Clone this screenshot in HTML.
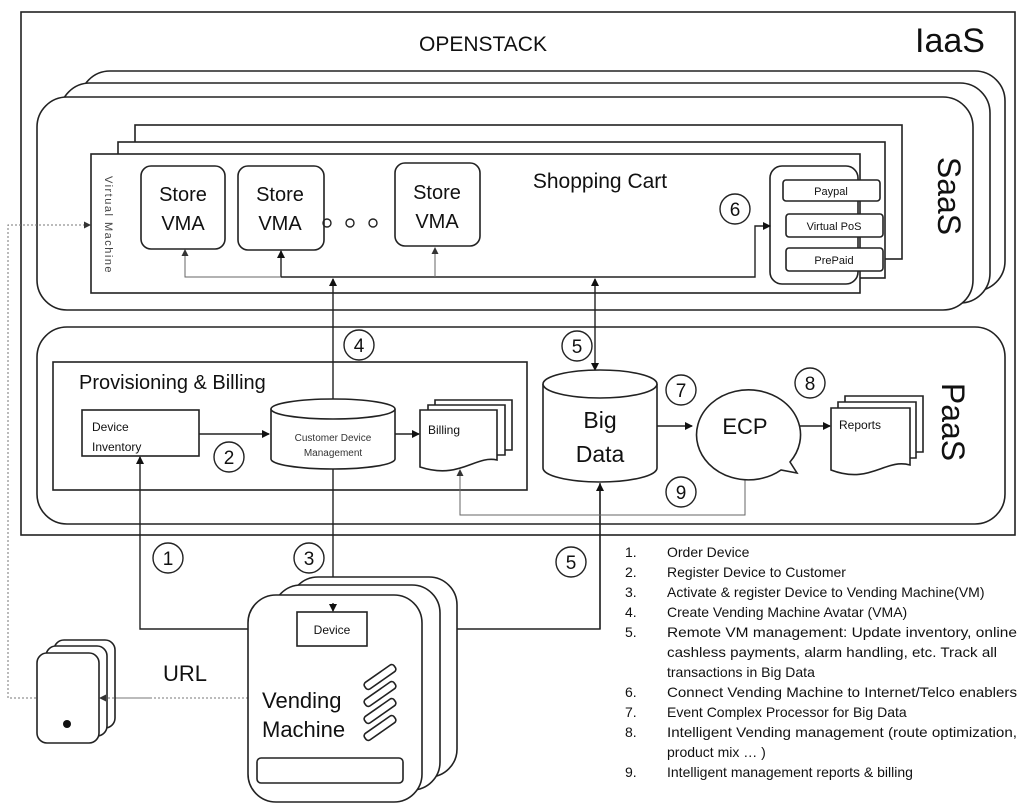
<!DOCTYPE html>
<html><head><meta charset="utf-8"><style>
html,body{margin:0;padding:0;background:#fff;}
svg{display:block;font-family:"Liberation Sans",sans-serif;}
</style></head><body>
<svg width="1024" height="812" viewBox="0 0 1024 812" xmlns="http://www.w3.org/2000/svg">
<defs>
<marker id="a" markerWidth="8" markerHeight="8" refX="7" refY="4" orient="auto-start-reverse" markerUnits="userSpaceOnUse"><path d="M0,0 L8,4 L0,8 z" fill="#111"/></marker>
<marker id="ag" markerWidth="7" markerHeight="7" refX="6" refY="3.5" orient="auto" markerUnits="userSpaceOnUse"><path d="M0,0 L7,3.5 L0,7 z" fill="#333"/></marker>
</defs>
<g fill="#fff" stroke="#222" stroke-width="1.6">
<rect x="21" y="12" width="994" height="523"/>
<rect x="80" y="71" width="925" height="220" rx="30"/>
<rect x="60" y="83" width="930" height="220" rx="30"/>
<rect x="37" y="97" width="936" height="213" rx="30"/>
<rect x="135" y="125" width="767" height="134"/>
<rect x="118" y="142" width="767" height="136"/>
<rect x="91" y="154" width="769" height="139"/>
<rect x="141" y="166" width="84" height="83" rx="10"/>
<rect x="238" y="166" width="86" height="84" rx="10"/>
<rect x="395" y="163" width="85" height="83" rx="10"/>
<rect x="770" y="166" width="88" height="118" rx="12"/>
<rect x="783" y="180" width="97" height="21" rx="3"/>
<rect x="786" y="214" width="97" height="23" rx="3"/>
<rect x="786" y="248" width="97" height="23" rx="3"/>
<rect x="37" y="327" width="968" height="197" rx="30"/>
<rect x="53" y="362" width="474" height="128"/>
<rect x="82" y="410" width="117" height="46"/>
</g>
<g fill="none" stroke="#222" stroke-width="1.4">
<circle cx="327" cy="223" r="4"/><circle cx="350" cy="223" r="4"/><circle cx="373" cy="223" r="4"/>
</g>
<g fill="#111">
<text x="483" y="51" font-size="21" text-anchor="middle">OPENSTACK</text>
<text x="950" y="52" font-size="34" text-anchor="middle">IaaS</text>
<text transform="translate(105,225) rotate(90)" font-size="11" text-anchor="middle" letter-spacing="1.5" fill="#444">Virtual Machine</text>
<text x="183" y="201" font-size="20" text-anchor="middle">Store</text><text x="183" y="230" font-size="20" text-anchor="middle">VMA</text>
<text x="280" y="201" font-size="20" text-anchor="middle">Store</text><text x="280" y="230" font-size="20" text-anchor="middle">VMA</text>
<text x="437" y="199" font-size="20" text-anchor="middle">Store</text><text x="437" y="228" font-size="20" text-anchor="middle">VMA</text>
<text x="600" y="188" font-size="21" text-anchor="middle">Shopping Cart</text>
<text x="831" y="195" font-size="11" text-anchor="middle">Paypal</text>
<text x="834" y="230" font-size="11" text-anchor="middle">Virtual PoS</text>
<text x="834" y="264" font-size="11" text-anchor="middle">PrePaid</text>
<text transform="translate(938,196) rotate(90)" font-size="32" text-anchor="middle">SaaS</text>
<text transform="translate(942,422) rotate(90)" font-size="32" text-anchor="middle">PaaS</text>
<text x="79" y="389" font-size="20">Provisioning &amp; Billing</text>
<text x="92" y="431" font-size="12">Device</text><text x="92" y="451" font-size="12">Inventory</text>
</g>
<g fill="none" stroke="#222" stroke-width="1.4">
<path d="M281,277 L755,277 L755,226 L770,226" marker-end="url(#a)"/>
<path d="M281,277 L281,251" marker-end="url(#a)"/>
<path d="M333,399 L333,279" marker-end="url(#a)"/>
<path d="M595,279 L595,370" marker-end="url(#a)" marker-start="url(#a)"/>
<path d="M199,434 L269,434" marker-end="url(#a)"/>
<path d="M395,434 L419,434" marker-end="url(#a)"/>
<path d="M657,426 L692,426" marker-end="url(#a)"/>
<path d="M797,426 L830,426" marker-end="url(#a)"/>
<path d="M333,467 L333,611" marker-end="url(#a)"/>
<path d="M297,629 L140,629 L140,457" marker-end="url(#a)"/>
<path d="M600,483 L600,629 L368,629" marker-end="url(#a)"/>
<path d="M600,629 L600,484" marker-end="url(#a)"/>
</g>
<g fill="none" stroke="#666" stroke-width="1">
<path d="M281,277 L185,277 L185,250" marker-end="url(#ag)"/>
<path d="M435,277 L435,248" marker-end="url(#ag)"/>
<path d="M745,473 L745,515 L460,515 L460,470" marker-end="url(#ag)"/>
</g>
<g fill="none" stroke="#777" stroke-width="1" stroke-dasharray="2,2">
<path d="M248,698 L8,698 L8,225 L90,225"/>
<path d="M85,225 L90,225" marker-end="url(#ag)"/>
</g>
<g fill="#fff" stroke="#222" stroke-width="1.6">
<path d="M271,409 L271,459 A62,10 0 0 0 395,459 L395,409"/>
<ellipse cx="333" cy="409" rx="62" ry="10"/>
<path d="M543,384 L543,468 A57,14 0 0 0 657,468 L657,384"/>
<ellipse cx="600" cy="384" rx="57" ry="14"/>
<path d="M435,400 L512,400 L512,450 L435,450 z"/>
<path d="M428,405 L505,405 L505,455 L428,455 z"/>
<path d="M420,410 L497,410 L497,460 C475,455 460,480 420,467 z"/>
<path d="M845,396 L923,396 L923,452 L845,452 z"/>
<path d="M838,402 L916,402 L916,458 L838,458 z"/>
<path d="M831,408 L910,408 L910,465 C885,458 870,485 831,470 z"/>
<path d="M790,462 A52,45 0 1 0 781,470 L797,473 z"/>
</g>
<g fill="#111">
<text x="333" y="441" font-size="10" text-anchor="middle" fill="#333">Customer Device</text>
<text x="333" y="456" font-size="10" text-anchor="middle" fill="#333">Management</text>
<text x="428" y="434" font-size="12">Billing</text>
<text x="839" y="429" font-size="12">Reports</text>
<text x="600" y="428" font-size="23" text-anchor="middle">Big</text>
<text x="600" y="462" font-size="23" text-anchor="middle">Data</text>
<text x="745" y="434" font-size="22" text-anchor="middle">ECP</text>
</g>
<g fill="#fff" stroke="#222" stroke-width="1.4">
<circle cx="735" cy="209" r="15"/><circle cx="359" cy="345" r="15"/><circle cx="577" cy="346" r="15"/>
<circle cx="229" cy="457" r="15"/><circle cx="681" cy="390" r="15"/><circle cx="810" cy="383" r="15"/>
<circle cx="681" cy="492" r="15"/><circle cx="168" cy="558" r="15"/><circle cx="309" cy="558" r="15"/><circle cx="571" cy="562" r="15"/>
</g>
<g fill="#111" font-size="19" text-anchor="middle">
<text x="735" y="216">6</text><text x="359" y="352">4</text><text x="577" y="353">5</text>
<text x="229" y="464">2</text><text x="681" y="397">7</text><text x="810" y="390">8</text>
<text x="681" y="499">9</text><text x="168" y="565">1</text><text x="309" y="565">3</text><text x="571" y="569">5</text>
</g>
<g fill="#fff" stroke="#222" stroke-width="1.6">
<rect x="290" y="577" width="167" height="200" rx="28"/>
<rect x="273" y="585" width="167" height="205" rx="28"/>
<rect x="248" y="595" width="174" height="207" rx="28"/>
<rect x="297" y="612" width="70" height="34"/>
<rect x="257" y="758" width="146" height="25" rx="4"/>
<g transform="translate(380,677) rotate(-35)"><rect x="-18" y="-4" width="36" height="8" rx="3"/></g>
<g transform="translate(380,694) rotate(-35)"><rect x="-18" y="-4" width="36" height="8" rx="3"/></g>
<g transform="translate(380,711) rotate(-35)"><rect x="-18" y="-4" width="36" height="8" rx="3"/></g>
<g transform="translate(380,728) rotate(-35)"><rect x="-18" y="-4" width="36" height="8" rx="3"/></g>
<rect x="54" y="640" width="61" height="88" rx="10"/>
<rect x="46" y="646" width="61" height="90" rx="10"/>
<rect x="37" y="653" width="62" height="90" rx="10"/>
</g>
<circle cx="67" cy="724" r="4" fill="#111"/>
<path d="M333,603 L333,611" stroke="#222" stroke-width="1.4" marker-end="url(#a)"/>
<path d="M150,698 L100,698" stroke="#777" stroke-width="1" stroke-dasharray="2,2" marker-end="url(#ag)"/>
<g fill="#111">
<text x="332" y="634" font-size="12" text-anchor="middle">Device</text>
<text x="262" y="708" font-size="22">Vending</text>
<text x="262" y="737" font-size="22">Machine</text>
<text x="163" y="681" font-size="22">URL</text>
</g>
<g fill="#111" font-size="14">
<text x="625" y="557">1.</text><text x="667" y="557">Order Device</text>
<text x="625" y="577">2.</text><text x="667" y="577">Register Device to Customer</text>
<text x="625" y="597">3.</text><text x="667" y="597">Activate &amp; register Device  to Vending Machine(VM)</text>
<text x="625" y="617">4.</text><text x="667" y="617">Create Vending Machine Avatar (VMA)</text>
<text x="625" y="637">5.</text><text x="667" y="637" textLength="350" lengthAdjust="spacingAndGlyphs">Remote VM management: Update inventory, online</text>
<text x="667" y="657" textLength="330" lengthAdjust="spacingAndGlyphs">cashless payments, alarm handling, etc. Track all</text>
<text x="667" y="677">transactions in Big Data</text>
<text x="625" y="697">6.</text><text x="667" y="697" textLength="350" lengthAdjust="spacingAndGlyphs">Connect  Vending Machine to Internet/Telco enablers</text>
<text x="625" y="717">7.</text><text x="667" y="717">Event Complex Processor for Big Data</text>
<text x="625" y="737">8.</text><text x="667" y="737" textLength="350" lengthAdjust="spacingAndGlyphs">Intelligent  Vending management (route optimization,</text>
<text x="667" y="757">product mix … )</text>
<text x="625" y="777">9.</text><text x="667" y="777">Intelligent  management reports &amp; billing</text>
</g>
</svg>
</body></html>
